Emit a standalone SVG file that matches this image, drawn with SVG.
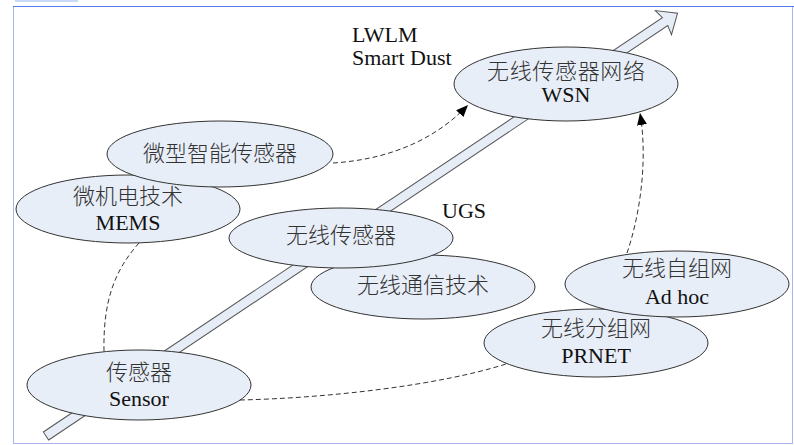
<svg xmlns="http://www.w3.org/2000/svg" width="794" height="445" viewBox="0 0 794 445">
<defs>
<style>
.node ellipse{fill:#e8eef8;stroke:#333;stroke-width:1}
.zh{font-family:"Liberation Serif","Noto Sans CJK SC",serif;font-size:22px;font-weight:300;fill:#333;text-anchor:middle}
.en{font-family:"Liberation Serif",serif;font-size:22px;fill:#111;text-anchor:middle}
.lbl{font-family:"Liberation Serif",serif;font-size:22px;fill:#111}
.dash{fill:none;stroke:#333;stroke-width:1;stroke-dasharray:5,3}
</style>
<marker id="ah" viewBox="0 0 12 10" refX="12" refY="5" markerWidth="12" markerHeight="10" markerUnits="userSpaceOnUse" orient="auto">
<path d="M0,0 L12,5 L0,10 Z" fill="#000"/>
</marker>
</defs>
<rect x="0" y="0" width="794" height="445" fill="#fff"/>
<rect x="15" y="0" width="63" height="2" fill="#c8d8f8"/>
<rect x="13.5" y="6.5" width="779" height="437" fill="#fff" stroke="#aab6f2" stroke-width="1"/>
<line x1="13" y1="6.5" x2="794" y2="6.5" stroke="#5a78ee" stroke-width="1.2"/>
<g id="trend-arrow">
<path transform="translate(46,436) rotate(-33.8)" d="M0,-4.8 L745,-4.8 L743,-14.5 L760,0 L743,14.5 L745,4.8 L0,4.8 Z" fill="#e6edf7" stroke="#555" stroke-width="1"/>
</g>
<g id="mems" class="node">
<ellipse cx="128" cy="209" rx="112" ry="34"/>
<text class="zh" x="128" y="204">微机电技术</text>
<text class="en" x="128" y="230">MEMS</text>
</g>
<g id="micro-smart-sensor" class="node">
<ellipse cx="220" cy="154" rx="113" ry="33"/>
<text class="zh" x="220" y="161">微型智能传感器</text>
</g>
<g id="wsn" class="node">
<ellipse cx="566" cy="84" rx="112" ry="37"/>
<text class="zh" x="566" y="79" textLength="158" lengthAdjust="spacing">无线传感器网络</text>
<text class="en" x="566" y="102">WSN</text>
</g>
<g id="sensor" class="node">
<ellipse cx="139" cy="385" rx="112" ry="35"/>
<text class="zh" x="139" y="380">传感器</text>
<text class="en" x="139" y="406">Sensor</text>
</g>
<g id="wireless-comm" class="node">
<ellipse cx="423" cy="287" rx="112" ry="32"/>
<text class="zh" x="423" y="293">无线通信技术</text>
</g>
<g id="wireless-sensor" class="node">
<ellipse cx="341" cy="238" rx="112" ry="30"/>
<text class="zh" x="341" y="243">无线传感器</text>
</g>
<g id="prnet" class="node">
<ellipse cx="596" cy="343" rx="112" ry="34"/>
<text class="zh" x="596" y="336">无线分组网</text>
<text class="en" x="596" y="363">PRNET</text>
</g>
<g id="adhoc" class="node">
<ellipse cx="677" cy="284" rx="112" ry="33"/>
<text class="zh" x="677" y="276">无线自组网</text>
<text class="en" x="677" y="304">Ad hoc</text>
</g>
<g id="labels">
<text class="lbl" x="352" y="42">LWLM</text>
<text class="lbl" x="352" y="65">Smart Dust</text>
<text class="lbl" x="442" y="218">UGS</text>
</g>
<g id="connectors">
<path class="dash" d="M333,163 C380,160 430,145 468,105" marker-end="url(#ah)"/>
<path class="dash" d="M627,253 C640,215 648,160 640,113" marker-end="url(#ah)"/>
<path class="dash" d="M139,243 C115,270 103,300 104,351"/>
<path class="dash" d="M240,400 C330,398 440,385 506,364"/>
</g>
</svg>
